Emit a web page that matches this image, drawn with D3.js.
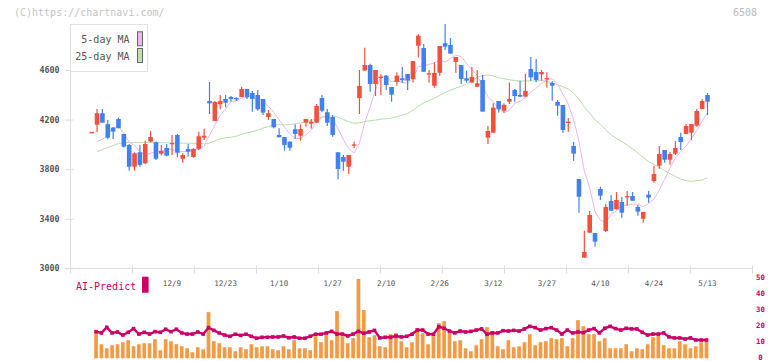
<!DOCTYPE html>
<html><head><meta charset="utf-8">
<script src="https://cdn.jsdelivr.net/npm/d3@7/dist/d3.min.js"></script>
<style>html,body{margin:0;padding:0;background:#fff;}svg{display:block;}</style>
</head><body><svg id="c" width="772" height="361"></svg>
<script>
const openP = [4100,4159,4251,4164,4135,4205,4084,3995,3820,3936,3847,4022,4017,3925,3971,4003,4076,3884,3963,3898,3963,4054,4350,4189,4323,4366,4382,4374,4382,4447,4415,4398,4366,4221,4205,4076,4059,4022,4122,4070,4175,4167,4175,4374,4259,4221,3936,3898,3820,4000,4373,4595,4640,4487,4546,4554,4463,4503,4533,4568,4527,4796,4777,4573,4473,4578,4816,4802,4665,4640,4533,4498,4465,4519,4054,4094,4350,4272,4344,4439,4398,4385,4608,4584,4565,4535,4495,4342,4318,4183,3987,3720,3086,3287,3285,3640,3301,3543,3476,3535,3582,3583,3495,3400,3594,3704,3828,3955,3876,3925,4059,4084,4094,4151,4285,4398];
const highP = [4100,4285,4285,4197,4135,4215,4084,4003,3936,3995,4030,4108,4022,3995,4003,4076,4084,3928,4003,3968,4102,4126,4503,4350,4398,4398,4390,4382,4465,4447,4431,4439,4366,4277,4205,4130,4059,4022,4162,4162,4205,4205,4326,4398,4285,4237,3936,3914,3914,4022,4600,4780,4651,4600,4565,4560,4463,4582,4624,4568,4673,4891,4810,4600,4662,4794,4971,4858,4705,4640,4595,4624,4600,4560,4148,4331,4350,4331,4498,4447,4514,4568,4705,4689,4600,4582,4511,4358,4318,4213,4019,3720,3303,3462,3285,3658,3521,3592,3616,3575,3624,3616,3511,3454,3624,3828,3987,3955,3938,4027,4094,4164,4164,4285,4366,4415];
const lowP = [4100,4100,4175,4043,4043,4130,3975,3788,3788,3820,3842,4017,3874,3912,3904,3914,3896,3852,3900,3892,3955,4035,4245,4189,4283,4299,4344,4350,4382,4366,4264,4272,4237,4197,4130,4057,3949,3949,4043,4030,4143,4127,4175,4259,4148,4062,3718,3788,3761,3968,4245,4595,4425,4390,4398,4439,4344,4473,4495,4439,4498,4700,4586,4498,4457,4554,4761,4732,4578,4487,4498,4498,4465,4264,4003,4094,4256,4256,4326,4344,4385,4385,4514,4503,4514,4457,4352,4231,4094,4102,3868,3449,3086,3287,3174,3551,3293,3465,3476,3408,3505,3545,3424,3368,3529,3691,3804,3852,3836,3914,3955,4084,4035,4143,4285,4237];
const closeP = [4100,4251,4175,4054,4103,4130,3981,3820,3928,3834,4003,4059,3884,3947,3909,4011,3933,3914,3941,3963,4065,4070,4331,4342,4350,4336,4366,4366,4447,4382,4366,4283,4256,4251,4138,4057,3995,3973,4084,4124,4205,4183,4310,4272,4175,4076,3801,3860,3914,4000,4471,4640,4487,4600,4546,4479,4401,4554,4517,4514,4673,4877,4586,4573,4576,4794,4788,4732,4705,4527,4514,4544,4493,4264,4108,4296,4283,4318,4366,4390,4385,4431,4541,4519,4584,4535,4473,4312,4116,4183,3925,3578,3131,3430,3215,3586,3495,3465,3551,3449,3582,3545,3457,3454,3570,3761,3922,3876,3922,3971,4019,4148,4164,4269,4350,4344];
const ma5 = [null,4023,4040,4075,4137,4143,4089,4018,3992,3939,3913,3929,3942,3945,3960,3962,3937,3943,3942,3952,3963,3991,4074,4154,4232,4286,4345,4352,4373,4379,4385,4369,4347,4308,4259,4197,4139,4083,4049,4047,4076,4114,4181,4219,4229,4203,4127,4037,3965,3930,4009,4177,4302,4440,4549,4550,4503,4516,4499,4493,4532,4627,4633,4645,4657,4681,4663,4693,4719,4709,4653,4604,4557,4468,4385,4341,4289,4254,4274,4331,4348,4378,4423,4453,4492,4522,4530,4485,4404,4324,4202,4023,3787,3649,3456,3388,3371,3438,3462,3509,3508,3518,3517,3497,3522,3557,3633,3717,3810,3890,3942,3987,4045,4114,4190,4255];
const ma25 = [null,3940,3958,3975,3990,4005,4015,4016,4015,4014,4014,4014,4014,4013,4012,4012,4011,4010,4009,4008,4006,4004,4010,4028,4044,4053,4058,4066,4081,4092,4102,4114,4131,4144,4157,4159,4156,4160,4165,4174,4182,4192,4207,4221,4229,4230,4219,4200,4183,4169,4174,4185,4190,4196,4203,4207,4212,4224,4234,4250,4274,4309,4334,4354,4372,4395,4419,4436,4454,4468,4485,4515,4540,4554,4559,4552,4537,4530,4521,4515,4511,4512,4512,4512,4515,4509,4493,4482,4464,4448,4413,4365,4301,4250,4197,4160,4118,4077,4049,4022,3994,3964,3930,3893,3860,3836,3815,3789,3765,3740,3720,3707,3701,3707,3713,3730];
const volume = [null,260,140,100,130,140,160,180,120,140,150,150,190,80,190,170,140,120,100,60,110,90,460,170,150,110,110,70,110,90,140,110,120,120,90,80,120,90,180,100,100,80,220,160,240,180,470,220,150,200,790,480,210,230,120,110,240,250,170,110,160,300,250,140,220,350,370,260,170,180,100,70,130,190,310,270,120,90,180,110,120,160,240,130,160,170,200,190,200,120,200,380,320,240,240,170,200,100,100,100,140,70,100,90,140,210,240,130,100,100,170,140,100,120,160,170];
const aiPredict = [null,16.4,15.6,19.1,15.6,16.2,14.3,16.0,18.3,14.9,16.0,14.9,16.4,16.0,17.9,16.4,17.9,15.6,14.9,14.9,16.2,14.9,18.9,17.2,15.6,14.3,13.5,14.8,14.1,14.8,13.5,12.3,12.9,12.9,13.1,13.1,13.7,12.6,13.1,12.3,12.3,13.5,14.8,14.8,15.6,16.6,14.9,14.9,13.7,14.9,16.6,15.4,16.2,17.2,12.5,12.9,12.9,13.7,13.1,13.5,14.8,17.4,17.4,14.9,14.8,19.5,18.5,16.8,15.6,16.8,16.2,16.6,17.4,18.1,14.8,15.6,15.6,17.0,16.8,17.2,16.8,18.1,19.7,18.9,17.4,18.3,18.9,17.4,14.9,17.4,15.6,16.2,15.8,17.4,18.3,15.6,18.5,19.7,18.3,17.4,18.5,18.1,18.1,16.0,14.3,14.9,14.9,15.6,13.1,12.5,12.5,11.8,12.5,11.2,11.2,11.2];
const dateLabels = ["12/9","12/23","1/10","1/27","2/10","2/26","3/12","3/27","4/10","4/24","5/13"];
const dateLabelIndex = [15,25,35,45,55,65,75,85,95,105,115];
const priceTicks = [3000,3400,3800,4200,4600];
const predictTicks = [0,10,20,30,40,50];

const RED = "#f0503c", BLUE = "#4080f0", AXIS = "#dddddd", TXT = "#555";
const MONO = "'DejaVu Sans Mono', 'Liberation Mono', monospace";
const svg = d3.select("#c");
svg.append("rect").attr("width",772).attr("height",361).attr("fill","#fff");

const n = closeP.length;
const x = d3.scaleLinear().domain([0, n-1]).range([91.7, 707.5]);
const y = d3.scaleLinear().domain([3000, 5000]).range([268.3, 20.4]);
const yR = d3.scaleLinear().domain([0, 50]).range([358, 277.7]);
const yV = d3.scaleLinear().domain([0, 790]).range([358.3, 279]);
const xFrame = d3.scaleLinear().domain([0, 11]).range([70, 752]);

// header texts
svg.append("text").attr("x",14).attr("y",16).attr("font-family",MONO).attr("font-size",10)
  .attr("fill","#c4c4c4").text("(C)https://chartnavi.com/");
svg.append("text").attr("x",757).attr("y",16).attr("text-anchor","end").attr("font-family",MONO).attr("font-size",10)
  .attr("fill","#bbb").text("6508");

// bottom axis (frame ticks)
const gx = svg.append("g").attr("transform","translate(0,268.5)")
  .call(d3.axisBottom(xFrame).ticks(11).tickFormat("").tickSize(5).tickSizeOuter(0));
gx.select(".domain").remove();
gx.selectAll(".tick line").attr("stroke",AXIS).attr("y1",-3).attr("y2",5);
svg.append("line").attr("x1",65).attr("x2",752).attr("y1",268.5).attr("y2",268.5).attr("stroke",AXIS);

// date labels
svg.append("g").selectAll("text").data(dateLabels).join("text")
  .attr("x",(d,i)=>x(dateLabelIndex[i])).attr("y",285.5).attr("text-anchor","middle")
  .attr("font-family",MONO).attr("font-size",7.6).attr("fill",TXT).text(d=>d);

// left axis
svg.append("line").attr("x1",70.5).attr("x2",70.5).attr("y1",24).attr("y2",268.5).attr("stroke",AXIS);
const gy = svg.append("g").attr("transform","translate(70.5,0)")
  .call(d3.axisLeft(y).tickValues(priceTicks).tickSize(5).tickPadding(6).tickFormat(d3.format("d")));
gy.select(".domain").remove();
gy.selectAll(".tick line").attr("stroke",AXIS).attr("x1",3).attr("x2",-5);
gy.selectAll(".tick text").attr("font-family",MONO).attr("font-size",8.3).attr("font-weight","bold").attr("fill",TXT);

// moving averages
const line = (arr) => d3.line().defined(d=>d!=null).x((d,i)=>x(i)).y(d=>y(d))(arr);
svg.append("path").attr("d",line(ma25)).attr("fill","none").attr("stroke","#b8deab").attr("stroke-width",1);
svg.append("path").attr("d",line(ma5)).attr("fill","none").attr("stroke","#eab8ec").attr("stroke-width",1);

// candles
const cw = 4.6;
const cg = svg.append("g");
const idx = d3.range(n);
cg.selectAll("line.w").data(idx).join("line")
  .attr("x1",i=>x(i)).attr("x2",i=>x(i))
  .attr("y1",i=>y(highP[i])).attr("y2",i=>y(lowP[i]))
  .attr("stroke",i=>closeP[i]>=openP[i]?RED:BLUE).attr("stroke-width",1.2);
cg.selectAll("rect.b").data(idx).join("rect")
  .attr("x",i=>x(i)-cw/2).attr("width",cw)
  .attr("y",i=>y(Math.max(openP[i],closeP[i])))
  .attr("height",i=>Math.max(1.3, Math.abs(y(openP[i])-y(closeP[i]))))
  .attr("fill",i=>closeP[i]>=openP[i]?RED:BLUE);

// legend
svg.append("rect").attr("x",70.5).attr("y",24.5).attr("width",77).attr("height",47)
  .attr("fill","#fff").attr("stroke","#e2e2e2");
const leg = [["5-day MA","#ecb8ec",42.8],["25-day MA","#bfe0b2",59.5]];
leg.forEach(([t,c,yy])=>{
  svg.append("text").attr("x",129.5).attr("y",yy).attr("text-anchor","end")
    .attr("font-family",MONO).attr("font-size",10).attr("fill",TXT).text(t);
  svg.append("rect").attr("x",137.5).attr("y",yy-11).attr("width",5).attr("height",14)
    .attr("fill",c).attr("stroke","#666").attr("stroke-width",1);
});

// lower panel
svg.append("text").attr("x",76).attr("y",290).attr("font-family",MONO).attr("font-size",10)
  .attr("fill","#cc0066").text("AI-Predict");
svg.append("rect").attr("x",142).attr("y",276.7).attr("width",6.6).attr("height",16).attr("fill","#cc0066");

svg.append("g").selectAll("rect").data(idx.filter(i=>volume[i]!=null)).join("rect")
  .attr("x",i=>x(i)-1-1.85).attr("width",3.7)
  .attr("y",i=>yV(volume[i])).attr("height",i=>yV(0)-yV(volume[i]))
  .attr("fill","#f39a45");

const gr = svg.append("g").attr("transform","translate(760.5,-0.8)")
  .call(d3.axisRight(yR).tickValues(predictTicks).tickSize(0).tickPadding(0));
gr.select(".domain").remove();
gr.selectAll(".tick text").attr("text-anchor","middle").attr("font-family",MONO)
  .attr("font-size",7.4).attr("font-weight","bold").attr("fill","#cc0066");

const aiLine = d3.line().defined(d=>d!=null).x((d,i)=>x(i)-1).y(d=>yR(d));
svg.append("path").attr("d",aiLine(aiPredict)).attr("fill","none").attr("stroke","#cc0066").attr("stroke-width",2.4);
svg.append("g").selectAll("rect").data(idx.filter(i=>aiPredict[i]!=null)).join("rect")
  .attr("x",i=>x(i)-1-1.8).attr("y",i=>yR(aiPredict[i])-1.8).attr("width",3.6).attr("height",3.6)
  .attr("fill","#cc0066");
</script></body></html>
